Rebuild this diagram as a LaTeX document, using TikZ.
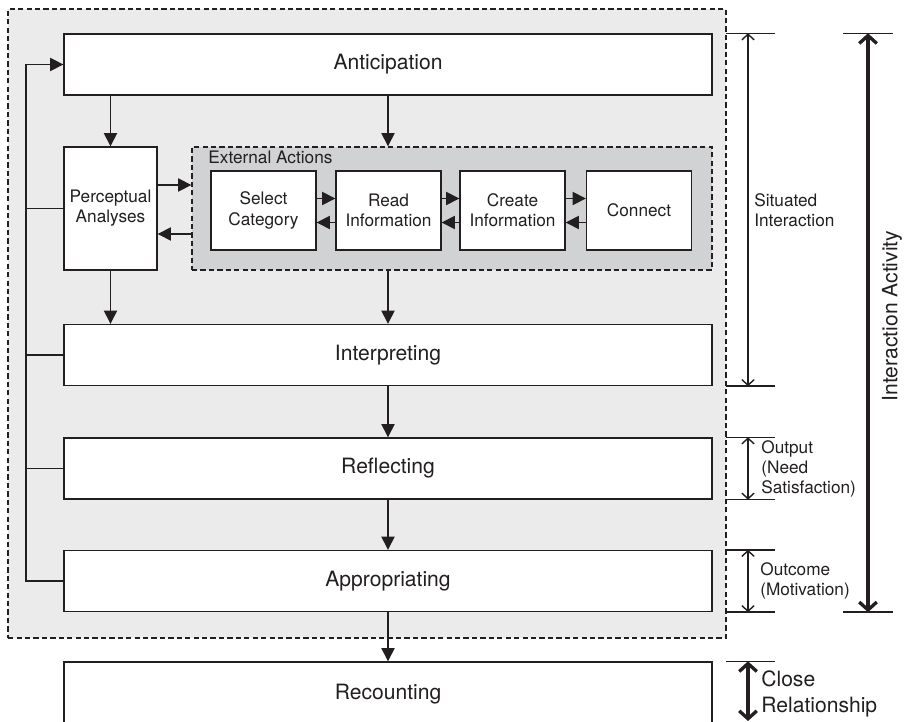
\documentclass[tikz,border=0pt]{standalone}
\usepackage{fontspec}
\setmainfont{TeX Gyre Heros}
\usepackage{xcolor}
\usetikzlibrary{arrows.meta, positioning}

\newcommand{\bigfont}{\fontsize{12}{14.8}\selectfont}
\newcommand{\smallfont}{\fontsize{9.8}{11.5}\selectfont}

\begin{document}
\begin{tikzpicture}[x=0.02cm, y=-0.02cm]

% -------------------------------------------------------
% Layout parameters
% -------------------------------------------------------
\def\bw{12.96cm}   % width of the stage boxes
\def\bh{1.22cm}    % height of the stage boxes
\def\sw{2.1cm}     % action box width
\def\sh{1.58cm}    % action box height
\def\xc{388}       % centre column
\def\xfb{26}       % feedback line
\def\xdim{748}     % short range arrows
\def\xact{868}     % interaction activity arrow
\def\ya{210.5}     % row of the action boxes
\def\off{0.24cm}   % offset of the action arrows

% colors
\definecolor{ink}{HTML}{231F20}
\definecolor{outerfill}{HTML}{EBEBEC}
\definecolor{innerfill}{HTML}{D1D2D4}

\tikzstyle{line} = [draw=ink, line width=0.8pt];
\tikzstyle{arrow} = [line, -{Triangle[length=7.5pt, width=7.5pt]}];
\tikzstyle{dim} = [line, {Straight Barb[length=3.2pt, width=7pt]}-{Straight Barb[length=3.2pt, width=7pt]}];
\tikzstyle{bigdim} = [draw=ink, line width=1.9pt, {Straight Barb[length=4.5pt, width=10pt]}-{Straight Barb[length=4.5pt, width=10pt]}];
\tikzstyle{stage} = [line, fill=white, minimum width=\bw, minimum height=\bh, font=\bigfont, text=ink];
\tikzstyle{action} = [line, fill=white, minimum width=\sw, minimum height=\sh, align=center, font=\smallfont, text=ink, inner sep=1pt];
\tikzstyle{region} = [draw=ink, line width=0.8pt, dash pattern=on 3pt off 1.8pt];
\tikzstyle{note} = [anchor=west, align=left, inner sep=0pt, font=\smallfont, text=ink];

\useasboundingbox (0,0) rectangle (905,722);

%%%%%% REGIONS
\node[region, fill=outerfill, minimum width=14.36cm, minimum height=12.58cm] (situ) at (367,323.5) {};
\node[region, fill=innerfill, minimum width=10.4cm, minimum height=2.46cm] (ext) at (452,208.5) {};
\node[anchor=north west, inner sep=1pt, font=\smallfont, text=ink] (extlab) at ([xshift=0.3cm, yshift=-0.05cm]ext.north west) {External Actions};

%%%%%% STAGES
\node[stage] (antic) at (\xc,64.5) {Anticipation};
\node[stage] (interp) at (\xc,355) {Interpreting};
\node[stage] (refl) at (\xc,468.5) {Reflecting};
\node[stage] (appro) at (\xc,581) {Appropriating};
\node[stage, minimum height=1.28cm] (recount) at (\xc,694) {Recounting};

\node[action, minimum width=1.86cm, minimum height=2.46cm] (percep) at (110.5,208.5) {Perceptual\\Analyses};

%%%%%% EXTERNAL ACTIONS
\node[action] (sel) at (263.5,\ya) {Select\\Category};
\node[action] (read) at (388.5,\ya) {Read\\Information};
\node[action] (create) at (512.5,\ya) {Create\\Information};
\node[action] (conn) at (639,\ya) {Connect};

\foreach \a/\b in {sel/read, read/create, create/conn} {
  \draw[arrow] ([yshift=\off]\a.east) -- ([yshift=\off]\b.west);
  \draw[arrow] ([yshift=-\off]\b.west) -- ([yshift=-\off]\a.east);
}

\draw[arrow] ([yshift=0.47cm]percep.east) -- ([yshift=0.47cm]ext.west);
\draw[arrow] ([yshift=-0.51cm]ext.west) -- ([yshift=-0.51cm]percep.east);

%%%%%% FLOW
\draw[arrow] (antic.south -| percep.north) -- (percep.north);
\draw[arrow] (antic.south) -- (antic.south |- ext.north);
\draw[arrow] (percep.south) -- (percep.south |- interp.north);
\draw[arrow] (ext.south -| antic.south) -- (interp.north);
\draw[arrow] (interp.south) -- (refl.north);
\draw[arrow] (refl.south) -- (appro.north);
\draw[arrow] (appro.south) -- (recount.north);

% feedback line
\coordinate (fb) at (\xfb,0);
\draw[arrow] (appro.west) -- (appro.west -| fb) -- (antic.west -| fb) -- (antic.west);
\foreach \n in {percep, interp, refl}
  \draw[line] (\n.west) -- (\n.west -| fb);

%%%%%% RANGES
\coordinate (tk) at (726,0);
\coordinate (tkb) at (843,0);
\coordinate (dm) at (\xdim,0);
\coordinate (ia) at (\xact,0);
\coordinate (bot) at (0,721);

\foreach \p in {antic.north, interp.south, refl.north, refl.south, appro.north, appro.south, recount.north}
  \draw[line] (\p -| tk) -- ++(49,0);
\foreach \p in {antic.north, appro.south}
  \draw[line] (\p -| tkb) -- ++(50,0);

\draw[dim] (antic.north -| dm) -- (interp.south -| dm);
\draw[dim] (refl.north -| dm) -- (refl.south -| dm);
\draw[dim] (appro.north -| dm) -- (appro.south -| dm);
\draw[bigdim] (recount.north -| dm) -- (bot -| dm);
\draw[bigdim] (antic.north -| ia) -- (appro.south -| ia);

%%% LABELS
\node[note] (situlab) at (754,210) {Situated\\Interaction};
\node[note] (outlab) at (761,469) {Output\\(Need\\Satisfaction)};
\node[note] (motlab) at (760,581) {Outcome\\(Motivation)};
\node[note, font=\bigfont] (closelab) at (761,694) {Close\\Relationship};
\node[rotate=90, font=\bigfont, text=ink] (actlab) at (892,316) {Interaction Activity};

\end{tikzpicture}
\end{document}
